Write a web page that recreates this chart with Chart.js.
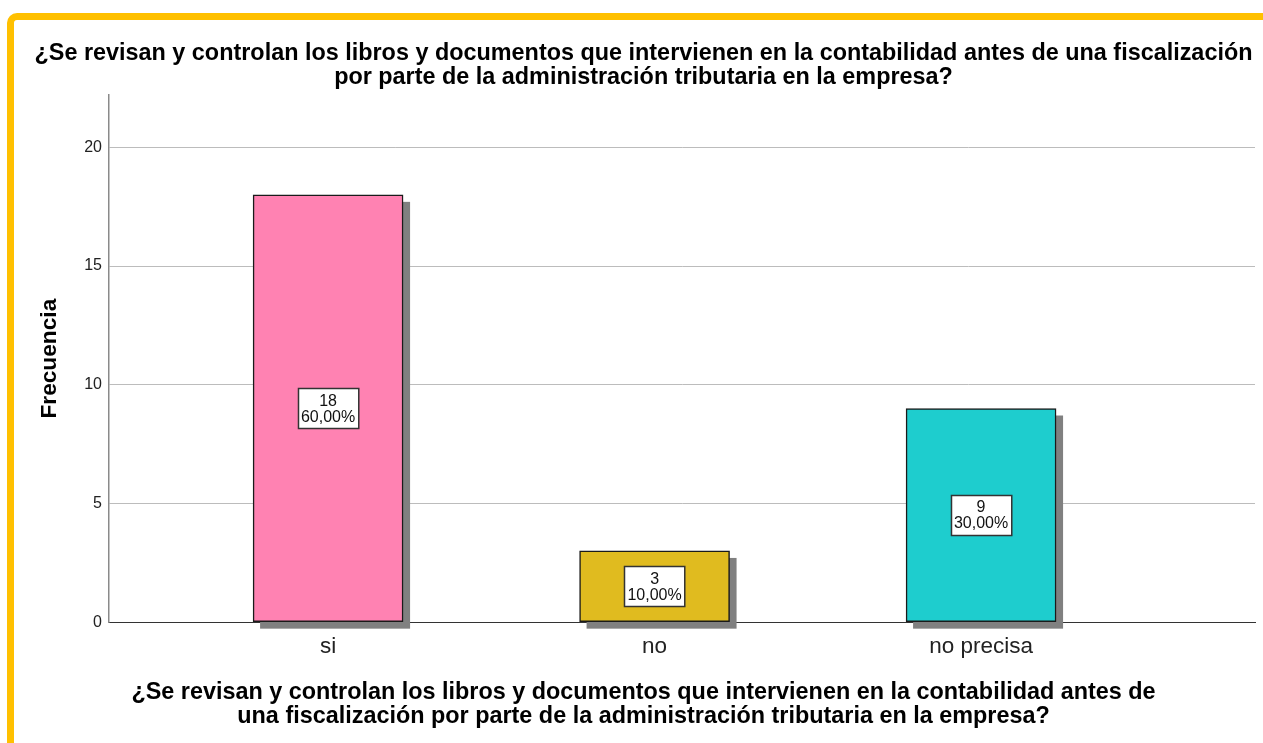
<!DOCTYPE html>
<html>
<head>
<meta charset="utf-8">
<script src="https://cdn.jsdelivr.net/npm/chart.js@4.4.1/dist/chart.umd.min.js"></script>
<style>
  html, body { margin: 0; padding: 0; background: #ffffff; }
  #frame {
    position: absolute; left: 7px; top: 13px;
    width: 1249px; height: 723px;
    border-top: 7px solid #FFC000; border-left: 7px solid #FFC000;
    border-top-left-radius: 10px;
    background: #ffffff;
  }
  canvas { display: block; }
</style>
</head>
<body>
<div id="frame"><canvas id="c" width="1249" height="723"></canvas></div>
<script>
const categories = ['si', 'no', 'no precisa'];
const frequencies = [18, 3, 9];
const percentLabels = ['60,00%', '10,00%', '30,00%'];
const barColors = ['#FF82B2', '#E0BB1F', '#1ECDCE'];
const yTicks = [0, 5, 10, 15, 20];
const chartTitle = ['¿Se revisan y controlan los libros y documentos que intervienen en la contabilidad antes de una fiscalización',
                    'por parte de la administración tributaria en la empresa?'];
const xTitle = ['¿Se revisan y controlan los libros y documentos que intervienen en la contabilidad antes de',
                'una fiscalización por parte de la administración tributaria en la empresa?'];
const yTitle = 'Frecuencia';

const FONT = "'Liberation Sans', Arial, sans-serif";

const shadowPlugin = {
  id: 'barShadow',
  beforeDatasetsDraw(chart) {
    const ctx = chart.ctx;
    const meta = chart.getDatasetMeta(0);
    ctx.save();
    ctx.fillStyle = '#808080';
    meta.data.forEach(bar => {
      const p = bar.getProps(['x', 'y', 'base', 'width'], true);
      ctx.fillRect(p.x - p.width / 2 + 7, p.y + 7, p.width, p.base - p.y);
    });
    ctx.restore();
  }
};

const boxLabelPlugin = {
  id: 'boxLabels',
  afterDatasetsDraw(chart) {
    const ctx = chart.ctx;
    const meta = chart.getDatasetMeta(0);
    ctx.save();
    ctx.font = '16px ' + FONT;
    meta.data.forEach((bar, i) => {
      const p = bar.getProps(['x', 'y', 'base'], true);
      const lines = [String(frequencies[i]), percentLabels[i]];
      const w = Math.max(...lines.map(t => ctx.measureText(t).width)) + 6;
      const h = 40;
      const cy = (p.y + p.base) / 2;
      const left = Math.round(p.x - w / 2) + 0.5;
      const top = Math.round(cy - h / 2) + 0.5;
      ctx.fillStyle = '#ffffff';
      ctx.fillRect(left, top, w, h);
      ctx.strokeStyle = '#333333';
      ctx.lineWidth = 1.5;
      ctx.strokeRect(left, top, w, h);
      ctx.fillStyle = '#111111';
      ctx.textAlign = 'center';
      ctx.textBaseline = 'middle';
      ctx.fillText(lines[0], p.x, cy - 7);
      ctx.fillText(lines[1], p.x, cy + 9);
    });
    ctx.restore();
  }
};

new Chart(document.getElementById('c'), {
  type: 'bar',
  data: {
    datasets: [{
      data: categories.map((c, i) => ({ x: i, y: frequencies[i] })),
      backgroundColor: barColors,
      borderColor: '#1a1a1a',
      borderWidth: 1.5,
      borderSkipped: false,
      barThickness: 150
    }]
  },
  options: {
    responsive: false,
    animation: false,
    devicePixelRatio: 1,
    layout: { padding: { left: 18, right: 8, top: 0, bottom: 0 } },
    plugins: {
      legend: { display: false },
      tooltip: { enabled: false },
      title: {
        display: true,
        text: chartTitle,
        color: '#000000',
        font: { family: FONT, size: 23.4, weight: 'bold', lineHeight: 1.05 },
        padding: { top: 21, bottom: 5 }
      },
      subtitle: {
        display: true,
        position: 'bottom',
        text: xTitle,
        color: '#000000',
        font: { family: FONT, size: 23.4, weight: 'bold', lineHeight: 1.05 },
        padding: { top: 12.7, bottom: 14 }
      }
    },
    scales: {
      x: {
        type: 'linear',
        offset: false,
        min: -0.671,
        max: 2.839,
        grid: { display: false, offset: false },
        border: { display: true, color: '#333333', width: 1 },
        afterBuildTicks(scale) { scale.ticks = categories.map((c, i) => ({ value: i })); },
        afterFit(scale) { scale.height = 45; },
        ticks: {
          padding: 3,
          maxRotation: 0,
          autoSkip: false,
          color: '#222222',
          font: { family: FONT, size: 22.5 },
          callback: (v) => categories[v]
        }
      },
      y: {
        min: 0,
        max: 22.2,
        afterBuildTicks(scale) { scale.ticks = yTicks.map(v => ({ value: v })); },
        afterFit(scale) { scale.width = 77; },
        grid: { color: '#bcbcbc', lineWidth: 1, drawTicks: false },
        border: { display: true, color: '#8a8a8a', width: 1.5 },
        ticks: {
          padding: 7,
          color: '#222222',
          font: { family: FONT, size: 16 }
        },
        title: {
          display: true,
          text: yTitle,
          color: '#000000',
          font: { family: FONT, size: 22.7, weight: 'bold', lineHeight: 1.2 },
          padding: { top: 4, bottom: 0 }
        }
      }
    }
  },
  plugins: [shadowPlugin, boxLabelPlugin]
});
</script>
</body>
</html>
